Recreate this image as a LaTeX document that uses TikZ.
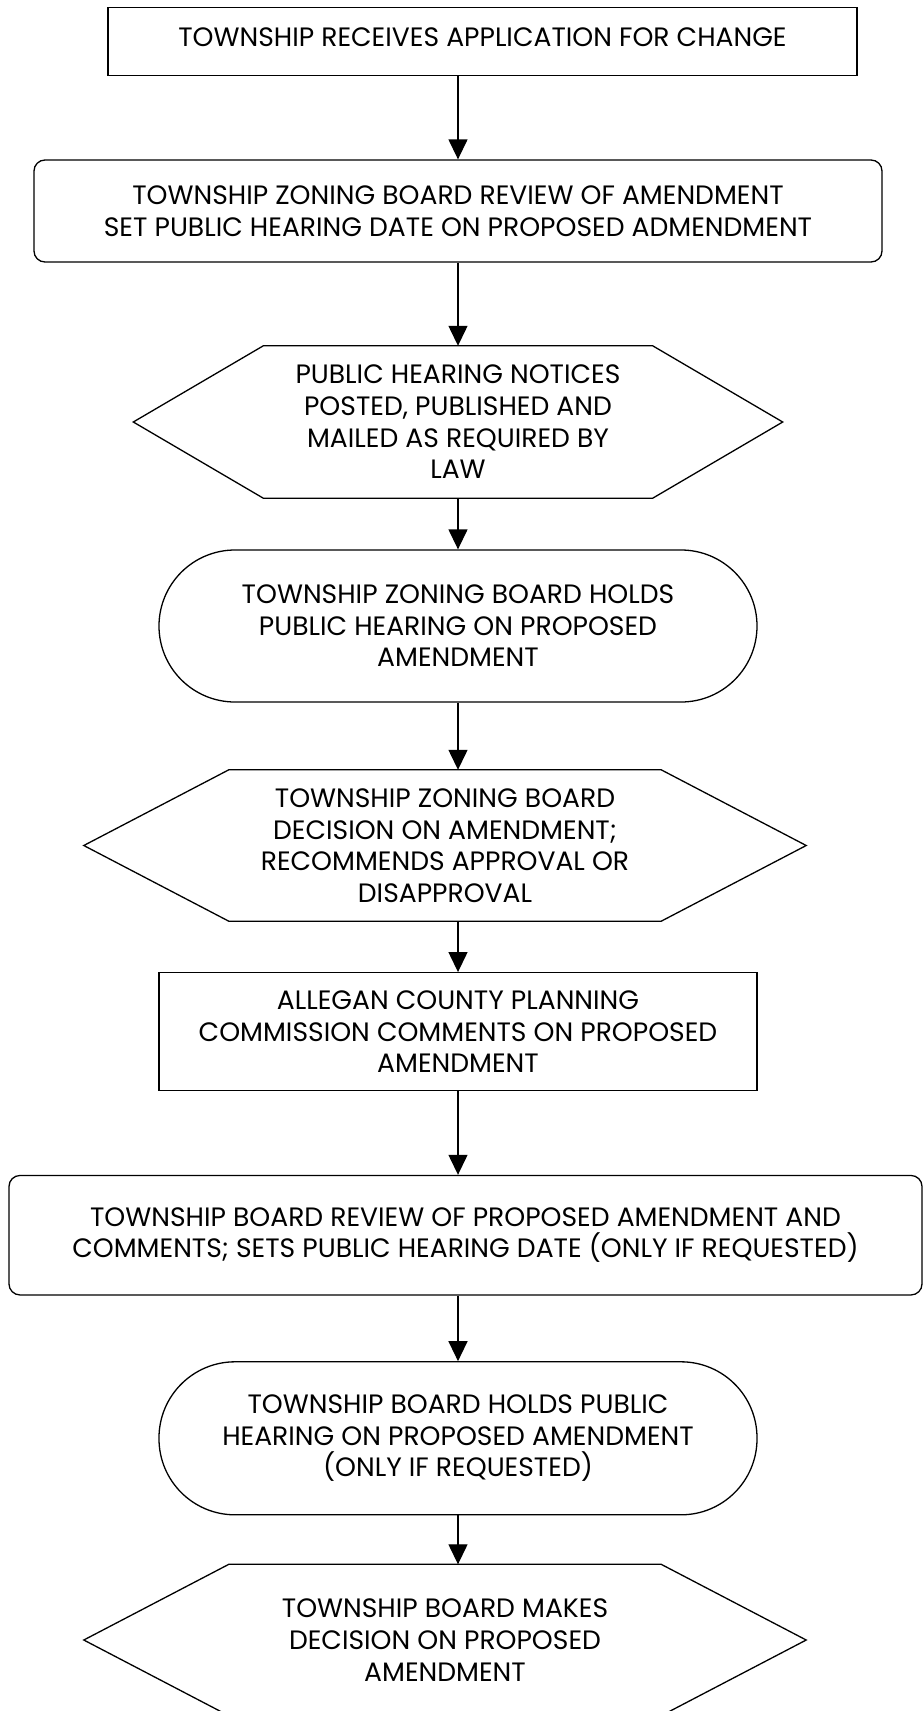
\documentclass[tikz,border=0pt]{standalone}
\usepackage{fontspec}
\setmainfont{Poppins}
\usetikzlibrary{arrows.meta}
\begin{document}
\begin{tikzpicture}[x=1pt,y=-1pt,
  every node/.style={align=center,inner sep=0pt,font=\fontsize{26.6}{31.6}\selectfont},
  boxA/.style={draw,line width=1.3pt,rectangle},
  boxR/.style={draw,line width=1.3pt,rectangle,rounded corners=11pt},
  stad/.style={draw,line width=1.3pt,rectangle,rounded corners=76pt},
  hexin/.style={rectangle,draw=none},
  hexline/.style={line width=1.3pt,line join=miter},
  arr/.style={line width=1.3pt,-{Triangle[length=20pt,width=19pt]}}]
\useasboundingbox (0,0) rectangle (923,1711);
\clip (0,0) rectangle (923,1711);

\node[boxA,minimum width=749pt,minimum height=68pt,text depth=8pt] (b1) at (482.5,41.5)
  {TOWNSHIP RECEIVES APPLICATION FOR CHANGE};
\node[boxR,minimum width=848pt,minimum height=102pt] (b2) at (458,211)
  {TOWNSHIP ZONING BOARD REVIEW OF AMENDMENT\\SET PUBLIC HEARING DATE ON PROPOSED ADMENDMENT};
\node[hexin,minimum width=389pt,minimum height=152pt] (h1) at (458,422)
  {PUBLIC HEARING NOTICES\\POSTED, PUBLISHED AND\\MAILED AS REQUIRED BY\\LAW};
\node[stad,minimum width=598pt,minimum height=152pt] (s1) at (458,626)
  {TOWNSHIP ZONING BOARD HOLDS\\PUBLIC HEARING ON PROPOSED\\AMENDMENT};
\node[hexin,minimum width=432pt,minimum height=151pt] (h2) at (445,845.5)
  {TOWNSHIP ZONING BOARD\\DECISION ON AMENDMENT;\\RECOMMENDS APPROVAL OR\\DISAPPROVAL};
\node[boxA,minimum width=598pt,minimum height=118pt] (b3) at (458,1031.7)
  {ALLEGAN COUNTY PLANNING\\COMMISSION COMMENTS ON PROPOSED\\AMENDMENT};
\node[boxR,minimum width=913pt,minimum height=119.5pt] (b4) at (465.5,1235.2)
  {TOWNSHIP BOARD REVIEW OF PROPOSED AMENDMENT AND\\COMMENTS; SETS PUBLIC HEARING DATE (ONLY IF REQUESTED)};
\node[stad,minimum width=598pt,minimum height=153pt] (s2) at (458,1438.3)
  {TOWNSHIP BOARD HOLDS PUBLIC\\HEARING ON PROPOSED AMENDMENT\\(ONLY IF REQUESTED)};
\node[hexin,minimum width=432pt,minimum height=151pt] (h3) at (445,1640)
  {TOWNSHIP BOARD MAKES\\DECISION ON PROPOSED\\AMENDMENT};

\draw[hexline] (h1.north west) -- (h1.north east) -- ([xshift=130pt]h1.east) -- (h1.south east)
  -- (h1.south west) -- ([xshift=-130pt]h1.west) -- cycle;
\draw[hexline] (h2.north west) -- (h2.north east) -- ([xshift=145pt]h2.east) -- (h2.south east)
  -- (h2.south west) -- ([xshift=-145pt]h2.west) -- cycle;
\draw[hexline] (h3.north west) -- (h3.north east) -- ([xshift=145pt]h3.east) -- (h3.south east)
  -- (h3.south west) -- ([xshift=-145pt]h3.west) -- cycle;

\draw[arr] (b1.south -| b2.north) -- (b2.north);
\draw[arr] (b2.south) -- (h1.north);
\draw[arr] (h1.south) -- (s1.north);
\draw[arr] (s1.south) -- (s1.south |- h2.north);
\draw[arr] (h2.south -| b3.north) -- (b3.north);
\draw[arr] (b3.south) -- (b3.south |- b4.north);
\draw[arr] (s2.north |- b4.south) -- (s2.north);
\draw[arr] (s2.south) -- (s2.south |- h3.north);
\end{tikzpicture}
\end{document}
